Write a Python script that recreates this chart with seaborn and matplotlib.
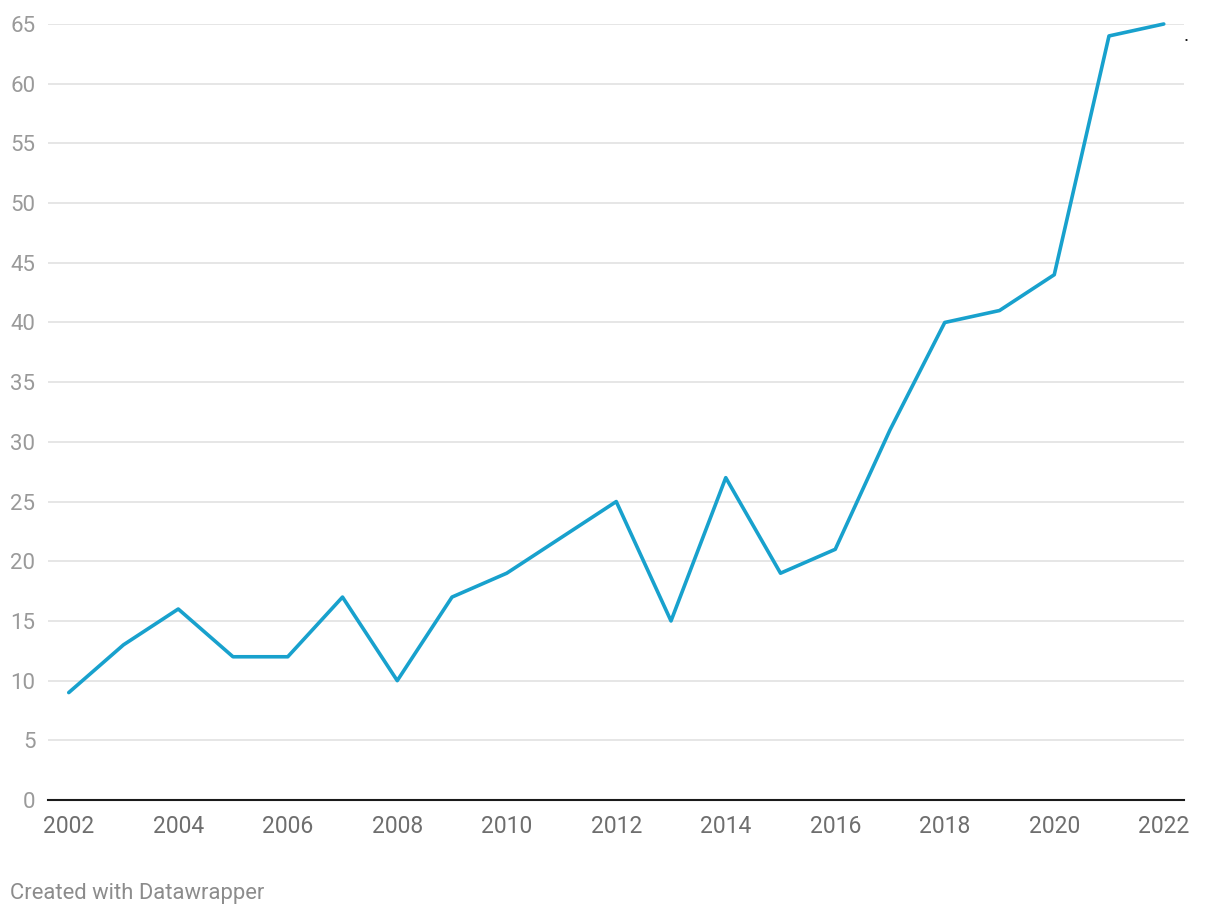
import pandas as pd
import numpy as np
import matplotlib.pyplot as plt
import seaborn as sns

years = list(range(2002, 2023))
values = [9, 13, 16, 12, 12, 17, 10, 17, 19, 22, 25, 15, 27, 19, 21, 31, 40, 41, 44, 64, 65]
y_ticks = [0, 5, 10, 15, 20, 25, 30, 35, 40, 45, 50, 55, 60, 65]
x_ticks = list(range(2002, 2023, 2))

df = pd.DataFrame({'year': years, 'value': values})

sns.set_style('white')
plt.rcParams['font.family'] = ['Roboto', 'DejaVu Sans']

fig = plt.figure(figsize=(12.2, 9.16), dpi=100)
ax = fig.add_axes([0.0393, 0.1266, 0.9312, 0.8472])

sns.lineplot(data=df, x='year', y='value', color='#18a1cd', linewidth=2.6, ax=ax, zorder=3)
for ln in ax.lines:
    ln.set_clip_on(False)
    ln.set_solid_capstyle('round')

ax.set_xlim(2001.62, 2022.37)
ax.set_ylim(0, 65)
ax.set_yticks(y_ticks)
ax.set_xticks(x_ticks)
ax.set_xticklabels([str(x) for x in x_ticks])
ax.grid(axis='y', color='#e2e2e2', linewidth=1.2, zorder=0)
ax.grid(axis='x', visible=False)
for s in ['top', 'right', 'left']:
    ax.spines[s].set_visible(False)
ax.spines['bottom'].set_color('#1a1a1a')
ax.spines['bottom'].set_linewidth(1.5)
ax.spines['bottom'].set_zorder(4)

ax.tick_params(axis='y', length=0, pad=9, labelsize=16, labelcolor='#9a9a9a')
ax.tick_params(axis='x', length=0, pad=11, labelsize=16.5, labelcolor='#6e6e6e')
ax.set_xlabel('')
ax.set_ylabel('')

# kleiner Punkt rechts oben
ax.text(2022.42, 63.2, '.', fontsize=14, color='#111111', ha='center', va='bottom', clip_on=False)

fig.text(0.008, 0.019, 'Created with Datawrapper', fontsize=15.8, color='#8c8c8c', ha='left', va='baseline')

fig.savefig('out.png', dpi=100)
